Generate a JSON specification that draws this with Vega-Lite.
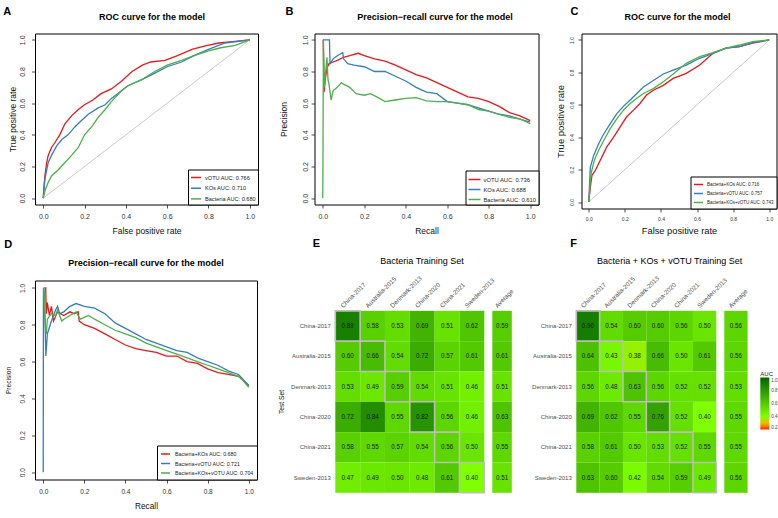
{
"$schema": "https://vega.github.io/schema/vega-lite/v6.json",
"padding": {"left": 3, "top": 5.5, "right": 0, "bottom": 0},
"background": "white",
"config": {
  "font": "Liberation Sans",
  "view": {"stroke": "#000", "strokeWidth": 1},
  "axis": {"grid": false, "domain": false, "tickColor": "#222", "tickSize": 3.5, "tickWidth": 0.8, "labelColor": "#333", "titleColor": "#111", "titleFontWeight": "normal", "labelFlush": false, "labelOverlap": false},
  "title": {"fontSize": 9, "fontWeight": "bold", "color": "#000"},
  "legend": {"labelFont": "Liberation Sans", "titleFont": "Liberation Sans"}
},
"datasets": {
  "rocA": [
    {"model":"vOTU AUC: 0.766","fpr":0,"tpr":0},{"model":"vOTU AUC: 0.766","fpr":0.004,"tpr":0.08},{"model":"vOTU AUC: 0.766","fpr":0.008,"tpr":0.14},{"model":"vOTU AUC: 0.766","fpr":0.016,"tpr":0.22},{"model":"vOTU AUC: 0.766","fpr":0.024,"tpr":0.27},{"model":"vOTU AUC: 0.766","fpr":0.04,"tpr":0.32},{"model":"vOTU AUC: 0.766","fpr":0.056,"tpr":0.35},{"model":"vOTU AUC: 0.766","fpr":0.08,"tpr":0.4},{"model":"vOTU AUC: 0.766","fpr":0.105,"tpr":0.47},{"model":"vOTU AUC: 0.766","fpr":0.137,"tpr":0.52},{"model":"vOTU AUC: 0.766","fpr":0.17,"tpr":0.56},{"model":"vOTU AUC: 0.766","fpr":0.2,"tpr":0.59},{"model":"vOTU AUC: 0.766","fpr":0.24,"tpr":0.62},{"model":"vOTU AUC: 0.766","fpr":0.28,"tpr":0.66},{"model":"vOTU AUC: 0.766","fpr":0.33,"tpr":0.69},{"model":"vOTU AUC: 0.766","fpr":0.38,"tpr":0.74},{"model":"vOTU AUC: 0.766","fpr":0.43,"tpr":0.8},{"model":"vOTU AUC: 0.766","fpr":0.48,"tpr":0.84},{"model":"vOTU AUC: 0.766","fpr":0.52,"tpr":0.86},{"model":"vOTU AUC: 0.766","fpr":0.59,"tpr":0.87},{"model":"vOTU AUC: 0.766","fpr":0.65,"tpr":0.9},{"model":"vOTU AUC: 0.766","fpr":0.72,"tpr":0.94},{"model":"vOTU AUC: 0.766","fpr":0.78,"tpr":0.96},{"model":"vOTU AUC: 0.766","fpr":0.85,"tpr":0.98},{"model":"vOTU AUC: 0.766","fpr":0.93,"tpr":0.99},{"model":"vOTU AUC: 0.766","fpr":1,"tpr":1},
    {"model":"KOs AUC: 0.710","fpr":0,"tpr":0},{"model":"KOs AUC: 0.710","fpr":0.004,"tpr":0.06},{"model":"KOs AUC: 0.710","fpr":0.008,"tpr":0.12},{"model":"KOs AUC: 0.710","fpr":0.024,"tpr":0.225},{"model":"KOs AUC: 0.710","fpr":0.04,"tpr":0.27},{"model":"KOs AUC: 0.710","fpr":0.065,"tpr":0.33},{"model":"KOs AUC: 0.710","fpr":0.09,"tpr":0.37},{"model":"KOs AUC: 0.710","fpr":0.12,"tpr":0.4},{"model":"KOs AUC: 0.710","fpr":0.153,"tpr":0.45},{"model":"KOs AUC: 0.710","fpr":0.185,"tpr":0.49},{"model":"KOs AUC: 0.710","fpr":0.218,"tpr":0.53},{"model":"KOs AUC: 0.710","fpr":0.266,"tpr":0.57},{"model":"KOs AUC: 0.710","fpr":0.3,"tpr":0.59},{"model":"KOs AUC: 0.710","fpr":0.33,"tpr":0.63},{"model":"KOs AUC: 0.710","fpr":0.36,"tpr":0.66},{"model":"KOs AUC: 0.710","fpr":0.41,"tpr":0.71},{"model":"KOs AUC: 0.710","fpr":0.48,"tpr":0.75},{"model":"KOs AUC: 0.710","fpr":0.54,"tpr":0.79},{"model":"KOs AUC: 0.710","fpr":0.6,"tpr":0.83},{"model":"KOs AUC: 0.710","fpr":0.67,"tpr":0.86},{"model":"KOs AUC: 0.710","fpr":0.73,"tpr":0.9},{"model":"KOs AUC: 0.710","fpr":0.8,"tpr":0.94},{"model":"KOs AUC: 0.710","fpr":0.88,"tpr":0.98},{"model":"KOs AUC: 0.710","fpr":1,"tpr":1},
    {"model":"Bacteria AUC: 0.680","fpr":0,"tpr":0},{"model":"Bacteria AUC: 0.680","fpr":0.008,"tpr":0.045},{"model":"Bacteria AUC: 0.680","fpr":0.024,"tpr":0.1},{"model":"Bacteria AUC: 0.680","fpr":0.04,"tpr":0.14},{"model":"Bacteria AUC: 0.680","fpr":0.073,"tpr":0.18},{"model":"Bacteria AUC: 0.680","fpr":0.105,"tpr":0.225},{"model":"Bacteria AUC: 0.680","fpr":0.137,"tpr":0.27},{"model":"Bacteria AUC: 0.680","fpr":0.17,"tpr":0.32},{"model":"Bacteria AUC: 0.680","fpr":0.2,"tpr":0.4},{"model":"Bacteria AUC: 0.680","fpr":0.234,"tpr":0.45},{"model":"Bacteria AUC: 0.680","fpr":0.266,"tpr":0.51},{"model":"Bacteria AUC: 0.680","fpr":0.3,"tpr":0.56},{"model":"Bacteria AUC: 0.680","fpr":0.33,"tpr":0.61},{"model":"Bacteria AUC: 0.680","fpr":0.38,"tpr":0.68},{"model":"Bacteria AUC: 0.680","fpr":0.41,"tpr":0.71},{"model":"Bacteria AUC: 0.680","fpr":0.48,"tpr":0.75},{"model":"Bacteria AUC: 0.680","fpr":0.54,"tpr":0.8},{"model":"Bacteria AUC: 0.680","fpr":0.6,"tpr":0.84},{"model":"Bacteria AUC: 0.680","fpr":0.67,"tpr":0.87},{"model":"Bacteria AUC: 0.680","fpr":0.73,"tpr":0.9},{"model":"Bacteria AUC: 0.680","fpr":0.8,"tpr":0.93},{"model":"Bacteria AUC: 0.680","fpr":0.86,"tpr":0.95},{"model":"Bacteria AUC: 0.680","fpr":0.93,"tpr":0.965},{"model":"Bacteria AUC: 0.680","fpr":1,"tpr":1}
  ],
  "prB": [
    {"model":"vOTU AUC: 0.736","recall":0.002,"precision":1.0},{"model":"vOTU AUC: 0.736","recall":0.006,"precision":0.67},{"model":"vOTU AUC: 0.736","recall":0.012,"precision":0.75},{"model":"vOTU AUC: 0.736","recall":0.02,"precision":0.82},{"model":"vOTU AUC: 0.736","recall":0.03,"precision":0.85},{"model":"vOTU AUC: 0.736","recall":0.05,"precision":0.86},{"model":"vOTU AUC: 0.736","recall":0.07,"precision":0.87},{"model":"vOTU AUC: 0.736","recall":0.1,"precision":0.89},{"model":"vOTU AUC: 0.736","recall":0.13,"precision":0.9},{"model":"vOTU AUC: 0.736","recall":0.17,"precision":0.915},{"model":"vOTU AUC: 0.736","recall":0.2,"precision":0.9},{"model":"vOTU AUC: 0.736","recall":0.25,"precision":0.88},{"model":"vOTU AUC: 0.736","recall":0.3,"precision":0.865},{"model":"vOTU AUC: 0.736","recall":0.35,"precision":0.84},{"model":"vOTU AUC: 0.736","recall":0.4,"precision":0.81},{"model":"vOTU AUC: 0.736","recall":0.45,"precision":0.78},{"model":"vOTU AUC: 0.736","recall":0.5,"precision":0.76},{"model":"vOTU AUC: 0.736","recall":0.55,"precision":0.73},{"model":"vOTU AUC: 0.736","recall":0.6,"precision":0.7},{"model":"vOTU AUC: 0.736","recall":0.65,"precision":0.67},{"model":"vOTU AUC: 0.736","recall":0.7,"precision":0.64},{"model":"vOTU AUC: 0.736","recall":0.75,"precision":0.63},{"model":"vOTU AUC: 0.736","recall":0.8,"precision":0.61},{"model":"vOTU AUC: 0.736","recall":0.85,"precision":0.58},{"model":"vOTU AUC: 0.736","recall":0.9,"precision":0.54},{"model":"vOTU AUC: 0.736","recall":0.95,"precision":0.52},{"model":"vOTU AUC: 0.736","recall":1.0,"precision":0.49},
    {"model":"KOs AUC: 0.688","recall":0.001,"precision":1.0},{"model":"KOs AUC: 0.688","recall":0.032,"precision":1.0},{"model":"KOs AUC: 0.688","recall":0.035,"precision":0.85},{"model":"KOs AUC: 0.688","recall":0.05,"precision":0.88},{"model":"KOs AUC: 0.688","recall":0.07,"precision":0.9},{"model":"KOs AUC: 0.688","recall":0.096,"precision":0.92},{"model":"KOs AUC: 0.688","recall":0.1,"precision":0.88},{"model":"KOs AUC: 0.688","recall":0.12,"precision":0.85},{"model":"KOs AUC: 0.688","recall":0.15,"precision":0.84},{"model":"KOs AUC: 0.688","recall":0.2,"precision":0.83},{"model":"KOs AUC: 0.688","recall":0.25,"precision":0.8},{"model":"KOs AUC: 0.688","recall":0.3,"precision":0.8},{"model":"KOs AUC: 0.688","recall":0.35,"precision":0.77},{"model":"KOs AUC: 0.688","recall":0.4,"precision":0.74},{"model":"KOs AUC: 0.688","recall":0.45,"precision":0.7},{"model":"KOs AUC: 0.688","recall":0.5,"precision":0.67},{"model":"KOs AUC: 0.688","recall":0.55,"precision":0.66},{"model":"KOs AUC: 0.688","recall":0.6,"precision":0.61},{"model":"KOs AUC: 0.688","recall":0.65,"precision":0.6},{"model":"KOs AUC: 0.688","recall":0.7,"precision":0.59},{"model":"KOs AUC: 0.688","recall":0.75,"precision":0.57},{"model":"KOs AUC: 0.688","recall":0.8,"precision":0.55},{"model":"KOs AUC: 0.688","recall":0.85,"precision":0.53},{"model":"KOs AUC: 0.688","recall":0.9,"precision":0.52},{"model":"KOs AUC: 0.688","recall":0.95,"precision":0.5},{"model":"KOs AUC: 0.688","recall":1.0,"precision":0.48},
    {"model":"Bacteria AUC: 0.610","recall":0,"precision":0},{"model":"Bacteria AUC: 0.610","recall":0.003,"precision":1.0},{"model":"Bacteria AUC: 0.610","recall":0.008,"precision":0.7},{"model":"Bacteria AUC: 0.610","recall":0.014,"precision":0.8},{"model":"Bacteria AUC: 0.610","recall":0.02,"precision":0.89},{"model":"Bacteria AUC: 0.610","recall":0.025,"precision":0.75},{"model":"Bacteria AUC: 0.610","recall":0.03,"precision":0.72},{"model":"Bacteria AUC: 0.610","recall":0.04,"precision":0.62},{"model":"Bacteria AUC: 0.610","recall":0.05,"precision":0.68},{"model":"Bacteria AUC: 0.610","recall":0.07,"precision":0.7},{"model":"Bacteria AUC: 0.610","recall":0.09,"precision":0.73},{"model":"Bacteria AUC: 0.610","recall":0.1,"precision":0.72},{"model":"Bacteria AUC: 0.610","recall":0.13,"precision":0.7},{"model":"Bacteria AUC: 0.610","recall":0.16,"precision":0.66},{"model":"Bacteria AUC: 0.610","recall":0.2,"precision":0.65},{"model":"Bacteria AUC: 0.610","recall":0.23,"precision":0.66},{"model":"Bacteria AUC: 0.610","recall":0.26,"precision":0.64},{"model":"Bacteria AUC: 0.610","recall":0.3,"precision":0.61},{"model":"Bacteria AUC: 0.610","recall":0.35,"precision":0.62},{"model":"Bacteria AUC: 0.610","recall":0.4,"precision":0.63},{"model":"Bacteria AUC: 0.610","recall":0.45,"precision":0.635},{"model":"Bacteria AUC: 0.610","recall":0.5,"precision":0.615},{"model":"Bacteria AUC: 0.610","recall":0.55,"precision":0.61},{"model":"Bacteria AUC: 0.610","recall":0.6,"precision":0.61},{"model":"Bacteria AUC: 0.610","recall":0.65,"precision":0.6},{"model":"Bacteria AUC: 0.610","recall":0.7,"precision":0.59},{"model":"Bacteria AUC: 0.610","recall":0.75,"precision":0.56},{"model":"Bacteria AUC: 0.610","recall":0.8,"precision":0.55},{"model":"Bacteria AUC: 0.610","recall":0.85,"precision":0.53},{"model":"Bacteria AUC: 0.610","recall":0.9,"precision":0.51},{"model":"Bacteria AUC: 0.610","recall":0.95,"precision":0.5},{"model":"Bacteria AUC: 0.610","recall":1.0,"precision":0.47}
  ],
  "rocC": [
    {"model":"Bacteria+KOs AUC: 0.716","fpr":0,"tpr":0},{"model":"Bacteria+KOs AUC: 0.716","fpr":0.01,"tpr":0.1},{"model":"Bacteria+KOs AUC: 0.716","fpr":0.018,"tpr":0.165},{"model":"Bacteria+KOs AUC: 0.716","fpr":0.037,"tpr":0.196},{"model":"Bacteria+KOs AUC: 0.716","fpr":0.064,"tpr":0.258},{"model":"Bacteria+KOs AUC: 0.716","fpr":0.1,"tpr":0.34},{"model":"Bacteria+KOs AUC: 0.716","fpr":0.138,"tpr":0.4},{"model":"Bacteria+KOs AUC: 0.716","fpr":0.174,"tpr":0.464},{"model":"Bacteria+KOs AUC: 0.716","fpr":0.21,"tpr":0.526},{"model":"Bacteria+KOs AUC: 0.716","fpr":0.248,"tpr":0.567},{"model":"Bacteria+KOs AUC: 0.716","fpr":0.284,"tpr":0.608},{"model":"Bacteria+KOs AUC: 0.716","fpr":0.32,"tpr":0.66},{"model":"Bacteria+KOs AUC: 0.716","fpr":0.358,"tpr":0.69},{"model":"Bacteria+KOs AUC: 0.716","fpr":0.413,"tpr":0.72},{"model":"Bacteria+KOs AUC: 0.716","fpr":0.468,"tpr":0.763},{"model":"Bacteria+KOs AUC: 0.716","fpr":0.54,"tpr":0.794},{"model":"Bacteria+KOs AUC: 0.716","fpr":0.615,"tpr":0.845},{"model":"Bacteria+KOs AUC: 0.716","fpr":0.688,"tpr":0.918},{"model":"Bacteria+KOs AUC: 0.716","fpr":0.76,"tpr":0.95},{"model":"Bacteria+KOs AUC: 0.716","fpr":0.835,"tpr":0.959},{"model":"Bacteria+KOs AUC: 0.716","fpr":0.908,"tpr":0.98},{"model":"Bacteria+KOs AUC: 0.716","fpr":1,"tpr":1},
    {"model":"Bacteria+vOTU AUC: 0.757","fpr":0,"tpr":0},{"model":"Bacteria+vOTU AUC: 0.757","fpr":0.009,"tpr":0.216},{"model":"Bacteria+vOTU AUC: 0.757","fpr":0.028,"tpr":0.289},{"model":"Bacteria+vOTU AUC: 0.757","fpr":0.055,"tpr":0.36},{"model":"Bacteria+vOTU AUC: 0.757","fpr":0.083,"tpr":0.42},{"model":"Bacteria+vOTU AUC: 0.757","fpr":0.12,"tpr":0.485},{"model":"Bacteria+vOTU AUC: 0.757","fpr":0.156,"tpr":0.546},{"model":"Bacteria+vOTU AUC: 0.757","fpr":0.193,"tpr":0.592},{"model":"Bacteria+vOTU AUC: 0.757","fpr":0.23,"tpr":0.63},{"model":"Bacteria+vOTU AUC: 0.757","fpr":0.266,"tpr":0.67},{"model":"Bacteria+vOTU AUC: 0.757","fpr":0.303,"tpr":0.71},{"model":"Bacteria+vOTU AUC: 0.757","fpr":0.358,"tpr":0.75},{"model":"Bacteria+vOTU AUC: 0.757","fpr":0.413,"tpr":0.79},{"model":"Bacteria+vOTU AUC: 0.757","fpr":0.468,"tpr":0.814},{"model":"Bacteria+vOTU AUC: 0.757","fpr":0.54,"tpr":0.845},{"model":"Bacteria+vOTU AUC: 0.757","fpr":0.615,"tpr":0.887},{"model":"Bacteria+vOTU AUC: 0.757","fpr":0.688,"tpr":0.918},{"model":"Bacteria+vOTU AUC: 0.757","fpr":0.76,"tpr":0.95},{"model":"Bacteria+vOTU AUC: 0.757","fpr":0.835,"tpr":0.959},{"model":"Bacteria+vOTU AUC: 0.757","fpr":0.908,"tpr":0.984},{"model":"Bacteria+vOTU AUC: 0.757","fpr":1,"tpr":1},
    {"model":"Bacteria+KOs+vOTU AUC: 0.743","fpr":0,"tpr":0},{"model":"Bacteria+KOs+vOTU AUC: 0.743","fpr":0.013,"tpr":0.175},{"model":"Bacteria+KOs+vOTU AUC: 0.743","fpr":0.031,"tpr":0.258},{"model":"Bacteria+KOs+vOTU AUC: 0.743","fpr":0.055,"tpr":0.32},{"model":"Bacteria+KOs+vOTU AUC: 0.743","fpr":0.083,"tpr":0.38},{"model":"Bacteria+KOs+vOTU AUC: 0.743","fpr":0.12,"tpr":0.454},{"model":"Bacteria+KOs+vOTU AUC: 0.743","fpr":0.156,"tpr":0.515},{"model":"Bacteria+KOs+vOTU AUC: 0.743","fpr":0.193,"tpr":0.567},{"model":"Bacteria+KOs+vOTU AUC: 0.743","fpr":0.23,"tpr":0.608},{"model":"Bacteria+KOs+vOTU AUC: 0.743","fpr":0.266,"tpr":0.64},{"model":"Bacteria+KOs+vOTU AUC: 0.743","fpr":0.303,"tpr":0.67},{"model":"Bacteria+KOs+vOTU AUC: 0.743","fpr":0.358,"tpr":0.7},{"model":"Bacteria+KOs+vOTU AUC: 0.743","fpr":0.413,"tpr":0.742},{"model":"Bacteria+KOs+vOTU AUC: 0.743","fpr":0.468,"tpr":0.79},{"model":"Bacteria+KOs+vOTU AUC: 0.743","fpr":0.54,"tpr":0.856},{"model":"Bacteria+KOs+vOTU AUC: 0.743","fpr":0.615,"tpr":0.897},{"model":"Bacteria+KOs+vOTU AUC: 0.743","fpr":0.688,"tpr":0.922},{"model":"Bacteria+KOs+vOTU AUC: 0.743","fpr":0.76,"tpr":0.95},{"model":"Bacteria+KOs+vOTU AUC: 0.743","fpr":0.835,"tpr":0.969},{"model":"Bacteria+KOs+vOTU AUC: 0.743","fpr":0.908,"tpr":0.99},{"model":"Bacteria+KOs+vOTU AUC: 0.743","fpr":1,"tpr":1}
  ],
  "prD": [
    {"model":"Bacteria+KOs AUC: 0.680","recall":0.005,"precision":1.0},{"model":"Bacteria+KOs AUC: 0.680","recall":0.012,"precision":1.0},{"model":"Bacteria+KOs AUC: 0.680","recall":0.015,"precision":0.86},{"model":"Bacteria+KOs AUC: 0.680","recall":0.02,"precision":0.92},{"model":"Bacteria+KOs AUC: 0.680","recall":0.03,"precision":0.85},{"model":"Bacteria+KOs AUC: 0.680","recall":0.04,"precision":0.9},{"model":"Bacteria+KOs AUC: 0.680","recall":0.05,"precision":0.82},{"model":"Bacteria+KOs AUC: 0.680","recall":0.07,"precision":0.87},{"model":"Bacteria+KOs AUC: 0.680","recall":0.1,"precision":0.85},{"model":"Bacteria+KOs AUC: 0.680","recall":0.13,"precision":0.87},{"model":"Bacteria+KOs AUC: 0.680","recall":0.15,"precision":0.86},{"model":"Bacteria+KOs AUC: 0.680","recall":0.17,"precision":0.87},{"model":"Bacteria+KOs AUC: 0.680","recall":0.175,"precision":0.82},{"model":"Bacteria+KOs AUC: 0.680","recall":0.2,"precision":0.8},{"model":"Bacteria+KOs AUC: 0.680","recall":0.25,"precision":0.78},{"model":"Bacteria+KOs AUC: 0.680","recall":0.3,"precision":0.75},{"model":"Bacteria+KOs AUC: 0.680","recall":0.35,"precision":0.72},{"model":"Bacteria+KOs AUC: 0.680","recall":0.4,"precision":0.69},{"model":"Bacteria+KOs AUC: 0.680","recall":0.45,"precision":0.67},{"model":"Bacteria+KOs AUC: 0.680","recall":0.5,"precision":0.66},{"model":"Bacteria+KOs AUC: 0.680","recall":0.55,"precision":0.65},{"model":"Bacteria+KOs AUC: 0.680","recall":0.6,"precision":0.63},{"model":"Bacteria+KOs AUC: 0.680","recall":0.65,"precision":0.63},{"model":"Bacteria+KOs AUC: 0.680","recall":0.7,"precision":0.6},{"model":"Bacteria+KOs AUC: 0.680","recall":0.75,"precision":0.59},{"model":"Bacteria+KOs AUC: 0.680","recall":0.8,"precision":0.56},{"model":"Bacteria+KOs AUC: 0.680","recall":0.85,"precision":0.54},{"model":"Bacteria+KOs AUC: 0.680","recall":0.9,"precision":0.53},{"model":"Bacteria+KOs AUC: 0.680","recall":0.95,"precision":0.52},{"model":"Bacteria+KOs AUC: 0.680","recall":1.0,"precision":0.47},
    {"model":"Bacteria+vOTU AUC: 0.721","recall":0,"precision":0},{"model":"Bacteria+vOTU AUC: 0.721","recall":0.001,"precision":1.0},{"model":"Bacteria+vOTU AUC: 0.721","recall":0.005,"precision":0.98},{"model":"Bacteria+vOTU AUC: 0.721","recall":0.013,"precision":0.63},{"model":"Bacteria+vOTU AUC: 0.721","recall":0.02,"precision":0.75},{"model":"Bacteria+vOTU AUC: 0.721","recall":0.04,"precision":0.82},{"model":"Bacteria+vOTU AUC: 0.721","recall":0.06,"precision":0.88},{"model":"Bacteria+vOTU AUC: 0.721","recall":0.07,"precision":0.9},{"model":"Bacteria+vOTU AUC: 0.721","recall":0.08,"precision":0.86},{"model":"Bacteria+vOTU AUC: 0.721","recall":0.1,"precision":0.87},{"model":"Bacteria+vOTU AUC: 0.721","recall":0.13,"precision":0.9},{"model":"Bacteria+vOTU AUC: 0.721","recall":0.16,"precision":0.915},{"model":"Bacteria+vOTU AUC: 0.721","recall":0.2,"precision":0.9},{"model":"Bacteria+vOTU AUC: 0.721","recall":0.25,"precision":0.89},{"model":"Bacteria+vOTU AUC: 0.721","recall":0.3,"precision":0.86},{"model":"Bacteria+vOTU AUC: 0.721","recall":0.35,"precision":0.81},{"model":"Bacteria+vOTU AUC: 0.721","recall":0.4,"precision":0.78},{"model":"Bacteria+vOTU AUC: 0.721","recall":0.45,"precision":0.75},{"model":"Bacteria+vOTU AUC: 0.721","recall":0.5,"precision":0.72},{"model":"Bacteria+vOTU AUC: 0.721","recall":0.55,"precision":0.7},{"model":"Bacteria+vOTU AUC: 0.721","recall":0.6,"precision":0.68},{"model":"Bacteria+vOTU AUC: 0.721","recall":0.65,"precision":0.66},{"model":"Bacteria+vOTU AUC: 0.721","recall":0.7,"precision":0.65},{"model":"Bacteria+vOTU AUC: 0.721","recall":0.75,"precision":0.62},{"model":"Bacteria+vOTU AUC: 0.721","recall":0.8,"precision":0.6},{"model":"Bacteria+vOTU AUC: 0.721","recall":0.85,"precision":0.58},{"model":"Bacteria+vOTU AUC: 0.721","recall":0.9,"precision":0.55},{"model":"Bacteria+vOTU AUC: 0.721","recall":0.95,"precision":0.53},{"model":"Bacteria+vOTU AUC: 0.721","recall":1.0,"precision":0.47},
    {"model":"Bacteria+KOs+vOTU AUC: 0.704","recall":0.003,"precision":1.0},{"model":"Bacteria+KOs+vOTU AUC: 0.704","recall":0.01,"precision":0.8},{"model":"Bacteria+KOs+vOTU AUC: 0.704","recall":0.015,"precision":0.75},{"model":"Bacteria+KOs+vOTU AUC: 0.704","recall":0.02,"precision":0.83},{"model":"Bacteria+KOs+vOTU AUC: 0.704","recall":0.04,"precision":0.86},{"model":"Bacteria+KOs+vOTU AUC: 0.704","recall":0.06,"precision":0.85},{"model":"Bacteria+KOs+vOTU AUC: 0.704","recall":0.07,"precision":0.88},{"model":"Bacteria+KOs+vOTU AUC: 0.704","recall":0.09,"precision":0.82},{"model":"Bacteria+KOs+vOTU AUC: 0.704","recall":0.1,"precision":0.83},{"model":"Bacteria+KOs+vOTU AUC: 0.704","recall":0.13,"precision":0.85},{"model":"Bacteria+KOs+vOTU AUC: 0.704","recall":0.16,"precision":0.87},{"model":"Bacteria+KOs+vOTU AUC: 0.704","recall":0.18,"precision":0.83},{"model":"Bacteria+KOs+vOTU AUC: 0.704","recall":0.2,"precision":0.84},{"model":"Bacteria+KOs+vOTU AUC: 0.704","recall":0.22,"precision":0.85},{"model":"Bacteria+KOs+vOTU AUC: 0.704","recall":0.25,"precision":0.83},{"model":"Bacteria+KOs+vOTU AUC: 0.704","recall":0.3,"precision":0.8},{"model":"Bacteria+KOs+vOTU AUC: 0.704","recall":0.35,"precision":0.77},{"model":"Bacteria+KOs+vOTU AUC: 0.704","recall":0.4,"precision":0.75},{"model":"Bacteria+KOs+vOTU AUC: 0.704","recall":0.45,"precision":0.73},{"model":"Bacteria+KOs+vOTU AUC: 0.704","recall":0.5,"precision":0.7},{"model":"Bacteria+KOs+vOTU AUC: 0.704","recall":0.55,"precision":0.68},{"model":"Bacteria+KOs+vOTU AUC: 0.704","recall":0.6,"precision":0.66},{"model":"Bacteria+KOs+vOTU AUC: 0.704","recall":0.65,"precision":0.64},{"model":"Bacteria+KOs+vOTU AUC: 0.704","recall":0.7,"precision":0.62},{"model":"Bacteria+KOs+vOTU AUC: 0.704","recall":0.75,"precision":0.6},{"model":"Bacteria+KOs+vOTU AUC: 0.704","recall":0.8,"precision":0.58},{"model":"Bacteria+KOs+vOTU AUC: 0.704","recall":0.85,"precision":0.56},{"model":"Bacteria+KOs+vOTU AUC: 0.704","recall":0.9,"precision":0.54},{"model":"Bacteria+KOs+vOTU AUC: 0.704","recall":0.95,"precision":0.52},{"model":"Bacteria+KOs+vOTU AUC: 0.704","recall":0.97,"precision":0.5},{"model":"Bacteria+KOs+vOTU AUC: 0.704","recall":1.0,"precision":0.46}
  ],
  "heatE": [
    {"test":"China-2017","train":"China-2017","auc":0.89},{"test":"China-2017","train":"Australia-2015","auc":0.58},{"test":"China-2017","train":"Denmark-2013","auc":0.53},{"test":"China-2017","train":"China-2020","auc":0.69},{"test":"China-2017","train":"China-2021","auc":0.51},{"test":"China-2017","train":"Sweden-2013","auc":0.62},{"test":"China-2017","train":"Average","auc":0.59},
    {"test":"Australia-2015","train":"China-2017","auc":0.60},{"test":"Australia-2015","train":"Australia-2015","auc":0.66},{"test":"Australia-2015","train":"Denmark-2013","auc":0.54},{"test":"Australia-2015","train":"China-2020","auc":0.72},{"test":"Australia-2015","train":"China-2021","auc":0.57},{"test":"Australia-2015","train":"Sweden-2013","auc":0.61},{"test":"Australia-2015","train":"Average","auc":0.61},
    {"test":"Denmark-2013","train":"China-2017","auc":0.53},{"test":"Denmark-2013","train":"Australia-2015","auc":0.49},{"test":"Denmark-2013","train":"Denmark-2013","auc":0.59},{"test":"Denmark-2013","train":"China-2020","auc":0.54},{"test":"Denmark-2013","train":"China-2021","auc":0.51},{"test":"Denmark-2013","train":"Sweden-2013","auc":0.46},{"test":"Denmark-2013","train":"Average","auc":0.51},
    {"test":"China-2020","train":"China-2017","auc":0.72},{"test":"China-2020","train":"Australia-2015","auc":0.84},{"test":"China-2020","train":"Denmark-2013","auc":0.55},{"test":"China-2020","train":"China-2020","auc":0.82},{"test":"China-2020","train":"China-2021","auc":0.56},{"test":"China-2020","train":"Sweden-2013","auc":0.46},{"test":"China-2020","train":"Average","auc":0.63},
    {"test":"China-2021","train":"China-2017","auc":0.58},{"test":"China-2021","train":"Australia-2015","auc":0.55},{"test":"China-2021","train":"Denmark-2013","auc":0.57},{"test":"China-2021","train":"China-2020","auc":0.54},{"test":"China-2021","train":"China-2021","auc":0.56},{"test":"China-2021","train":"Sweden-2013","auc":0.50},{"test":"China-2021","train":"Average","auc":0.55},
    {"test":"Sweden-2013","train":"China-2017","auc":0.47},{"test":"Sweden-2013","train":"Australia-2015","auc":0.49},{"test":"Sweden-2013","train":"Denmark-2013","auc":0.50},{"test":"Sweden-2013","train":"China-2020","auc":0.48},{"test":"Sweden-2013","train":"China-2021","auc":0.61},{"test":"Sweden-2013","train":"Sweden-2013","auc":0.40},{"test":"Sweden-2013","train":"Average","auc":0.51}
  ],
  "heatF": [
    {"test":"China-2017","train":"China-2017","auc":0.90},{"test":"China-2017","train":"Australia-2015","auc":0.54},{"test":"China-2017","train":"Denmark-2013","auc":0.60},{"test":"China-2017","train":"China-2020","auc":0.60},{"test":"China-2017","train":"China-2021","auc":0.56},{"test":"China-2017","train":"Sweden-2013","auc":0.50},{"test":"China-2017","train":"Average","auc":0.56},
    {"test":"Australia-2015","train":"China-2017","auc":0.64},{"test":"Australia-2015","train":"Australia-2015","auc":0.43},{"test":"Australia-2015","train":"Denmark-2013","auc":0.38},{"test":"Australia-2015","train":"China-2020","auc":0.66},{"test":"Australia-2015","train":"China-2021","auc":0.50},{"test":"Australia-2015","train":"Sweden-2013","auc":0.61},{"test":"Australia-2015","train":"Average","auc":0.56},
    {"test":"Denmark-2013","train":"China-2017","auc":0.56},{"test":"Denmark-2013","train":"Australia-2015","auc":0.48},{"test":"Denmark-2013","train":"Denmark-2013","auc":0.63},{"test":"Denmark-2013","train":"China-2020","auc":0.56},{"test":"Denmark-2013","train":"China-2021","auc":0.52},{"test":"Denmark-2013","train":"Sweden-2013","auc":0.52},{"test":"Denmark-2013","train":"Average","auc":0.53},
    {"test":"China-2020","train":"China-2017","auc":0.69},{"test":"China-2020","train":"Australia-2015","auc":0.62},{"test":"China-2020","train":"Denmark-2013","auc":0.55},{"test":"China-2020","train":"China-2020","auc":0.76},{"test":"China-2020","train":"China-2021","auc":0.52},{"test":"China-2020","train":"Sweden-2013","auc":0.40},{"test":"China-2020","train":"Average","auc":0.55},
    {"test":"China-2021","train":"China-2017","auc":0.58},{"test":"China-2021","train":"Australia-2015","auc":0.61},{"test":"China-2021","train":"Denmark-2013","auc":0.50},{"test":"China-2021","train":"China-2020","auc":0.53},{"test":"China-2021","train":"China-2021","auc":0.52},{"test":"China-2021","train":"Sweden-2013","auc":0.55},{"test":"China-2021","train":"Average","auc":0.55},
    {"test":"Sweden-2013","train":"China-2017","auc":0.63},{"test":"Sweden-2013","train":"Australia-2015","auc":0.60},{"test":"Sweden-2013","train":"Denmark-2013","auc":0.42},{"test":"Sweden-2013","train":"China-2020","auc":0.54},{"test":"Sweden-2013","train":"China-2021","auc":0.59},{"test":"Sweden-2013","train":"Sweden-2013","auc":0.49},{"test":"Sweden-2013","train":"Average","auc":0.56}
  ]
},
"spacing": 1,
"resolve": {"scale": {"color": "independent"}},
"vconcat": [
  {
    "spacing": 19.5, "resolve": {"scale": {"color": "independent"}},
    "hconcat": [
      {
        "title": {"text": "A", "anchor": "start", "frame": "bounds", "fontSize": 11, "fontWeight": "bold", "dx": -4.75, "offset": -5},
        "resolve": {"scale": {"color": "independent"}},
        "vconcat": [{
          "width": 223, "height": 171,
          "title": {"text": "ROC curve for the model", "frame": "group", "offset": 12, "dx": 5.5},
          "encoding": {
            "x": {"field": "fpr", "type": "quantitative", "scale": {"domain": [-0.04, 1.04], "nice": false, "zero": false}, "axis": {"title": "False positive rate", "values": [0,0.2,0.4,0.6,0.8,1], "format": ".1f", "labelFontSize": 7, "titleFontSize": 8.5, "labelPadding": 4, "titlePadding": 7.5}},
            "y": {"field": "tpr", "type": "quantitative", "scale": {"domain": [-0.04, 1.04], "nice": false, "zero": false}, "axis": {"title": "True positive rate", "values": [0,0.2,0.4,0.6,0.8,1], "format": ".1f", "labelAngle": -90, "labelAlign": "center", "labelBaseline": "bottom", "labelFontSize": 7, "labelPadding": 6, "titleFontSize": 8.5, "titlePadding": 1}}
          },
          "layer": [
            {"data": {"values": [{"fpr": 0, "tpr": 0}, {"fpr": 1, "tpr": 1}]}, "mark": {"type": "line", "color": "#a6a6a6", "strokeWidth": 0.6}},
            {"data": {"name": "rocA"}, "mark": {"type": "line", "strokeWidth": 1.3},
             "encoding": {"color": {"field": "model", "type": "nominal", "scale": {"domain": ["vOTU AUC: 0.766", "KOs AUC: 0.710", "Bacteria AUC: 0.680"], "range": ["#e41a1c", "#377eb8", "#4daf4a"]},
               "legend": {"orient": "bottom-right", "offset": 0, "title": null, "strokeColor": "#000", "fillColor": "white", "padding": 2, "symbolType": "stroke", "symbolSize": 100, "symbolStrokeWidth": 1.5, "labelFontSize": 5.6, "labelColor": "#222", "labelOffset": 3, "rowPadding": 0.7}}}}
          ]
        }]
      },
      {
        "spacing": 15, "resolve": {"scale": {"color": "independent"}},
        "hconcat": [
          {
            "title": {"text": "B", "anchor": "start", "frame": "bounds", "fontSize": 11, "fontWeight": "bold", "dx": 6.5, "offset": -5},
            "resolve": {"scale": {"color": "independent"}},
            "vconcat": [{
              "width": 224, "height": 171,
              "title": {"text": "Precision−recall curve for the model", "frame": "group", "offset": 12, "dx": 8.5},
              "data": {"name": "prB"},
              "mark": {"type": "line", "strokeWidth": 1.3},
              "encoding": {
                "x": {"field": "recall", "type": "quantitative", "scale": {"domain": [-0.04, 1.04], "nice": false, "zero": false}, "axis": {"title": "Recall", "values": [0,0.2,0.4,0.6,0.8,1], "format": ".1f", "labelFontSize": 7, "titleFontSize": 8.5, "labelPadding": 4, "titlePadding": 7.5}},
                "y": {"field": "precision", "type": "quantitative", "scale": {"domain": [-0.04, 1.04], "nice": false, "zero": false}, "axis": {"title": "Precision", "values": [0,0.2,0.4,0.6,0.8,1], "format": ".1f", "labelAngle": -90, "labelAlign": "center", "labelBaseline": "bottom", "labelFontSize": 7, "labelPadding": 2.5, "titleFontSize": 8.5, "titlePadding": 13}},
                "color": {"field": "model", "type": "nominal", "scale": {"domain": ["vOTU AUC: 0.736", "KOs AUC: 0.688", "Bacteria AUC: 0.610"], "range": ["#e41a1c", "#377eb8", "#4daf4a"]},
                  "legend": {"orient": "bottom-right", "offset": 0, "title": null, "strokeColor": "#000", "fillColor": "white", "padding": 2, "symbolType": "stroke", "symbolSize": 144, "symbolStrokeWidth": 1.5, "labelFontSize": 5.8, "labelColor": "#222", "labelOffset": 2, "rowPadding": -2.5}}
              }
            }]
          },
          {
            "title": {"text": "C", "anchor": "start", "frame": "bounds", "fontSize": 11, "fontWeight": "bold", "dx": 16, "offset": -5},
            "resolve": {"scale": {"color": "independent"}},
            "vconcat": [{
              "width": 195, "height": 175,
              "title": {"text": "ROC curve for the model", "frame": "group", "offset": 12, "dx": -1.5},
              "encoding": {
                "x": {"field": "fpr", "type": "quantitative", "scale": {"domain": [-0.04, 1.04], "nice": false, "zero": false}, "axis": {"title": "False positive rate", "values": [0,0.2,0.4,0.6,0.8,1], "format": ".1f", "labelFontSize": 5, "titleFontSize": 9.3, "labelPadding": 4, "titlePadding": 5.5}},
                "y": {"field": "tpr", "type": "quantitative", "scale": {"domain": [-0.04, 1.04], "nice": false, "zero": false}, "axis": {"title": "True positive rate", "values": [0,0.2,0.4,0.6,0.8,1], "format": ".1f", "labelAngle": -90, "labelAlign": "center", "labelBaseline": "bottom", "labelFontSize": 5, "labelPadding": 3.5, "titleFontSize": 9.5, "titlePadding": 4.5}}
              },
              "layer": [
                {"data": {"values": [{"fpr": 0, "tpr": 0}, {"fpr": 1, "tpr": 1}]}, "mark": {"type": "line", "color": "#a6a6a6", "strokeWidth": 0.6}},
                {"data": {"name": "rocC"}, "mark": {"type": "line", "strokeWidth": 1.3},
                 "encoding": {"color": {"field": "model", "type": "nominal", "scale": {"domain": ["Bacteria+KOs AUC: 0.716", "Bacteria+vOTU AUC: 0.757", "Bacteria+KOs+vOTU AUC: 0.743"], "range": ["#e41a1c", "#377eb8", "#4daf4a"]},
                   "legend": {"orient": "bottom-right", "offset": 0, "title": null, "strokeColor": "#000", "fillColor": "white", "padding": 2.5, "symbolType": "stroke", "symbolSize": 81, "symbolStrokeWidth": 1.5, "labelFontSize": 4.5, "labelColor": "#222", "labelOffset": 3, "rowPadding": -1}}}}
              ]
            }]
          }
        ]
      }
    ]
  },
  {
    "spacing": 20.3, "resolve": {"scale": {"color": "independent"}},
    "hconcat": [
      {
        "title": {"text": "D", "anchor": "start", "frame": "bounds", "fontSize": 11, "fontWeight": "bold", "dx": -0.7, "offset": 8},
        "resolve": {"scale": {"color": "independent"}},
        "vconcat": [{
          "width": 222, "height": 199,
          "title": {"text": "Precision−recall curve for the model", "frame": "group", "offset": 12.7},
          "data": {"name": "prD"},
          "mark": {"type": "line", "strokeWidth": 1.3},
          "encoding": {
            "x": {"field": "recall", "type": "quantitative", "scale": {"domain": [-0.04, 1.04], "nice": false, "zero": false}, "axis": {"title": "Recall", "values": [0,0.2,0.4,0.6,0.8,1], "format": ".1f", "labelFontSize": 6.5, "titleFontSize": 8.3, "labelPadding": 5.5, "titlePadding": 6.5}},
            "y": {"field": "precision", "type": "quantitative", "scale": {"domain": [-0.04, 1.04], "nice": false, "zero": false}, "axis": {"title": "Precision", "values": [0,0.2,0.4,0.6,0.8,1], "format": ".1f", "labelAngle": -90, "labelAlign": "center", "labelBaseline": "bottom", "labelFontSize": 6.5, "labelPadding": 6, "titleFontSize": 6.6, "titlePadding": 8}},
            "color": {"field": "model", "type": "nominal", "scale": {"domain": ["Bacteria+KOs AUC: 0.680", "Bacteria+vOTU AUC: 0.721", "Bacteria+KOs+vOTU AUC: 0.704"], "range": ["#e41a1c", "#377eb8", "#4daf4a"]},
              "legend": {"orient": "bottom-right", "offset": 0, "title": null, "strokeColor": "#000", "fillColor": "white", "padding": 3, "symbolType": "stroke", "symbolSize": 81, "symbolStrokeWidth": 1.5, "labelFontSize": 5.3, "labelColor": "#222", "labelOffset": 4, "rowPadding": 0.5}}
          }
        }]
      },
      {
        "spacing": 16, "resolve": {"scale": {"color": "independent"}},
        "hconcat": [
          {
            "title": {"text": "E", "anchor": "start", "frame": "bounds", "fontSize": 11, "fontWeight": "bold", "dx": 34.4, "offset": 7.7},
            "resolve": {"scale": {"color": "independent"}},
            "vconcat": [{
              "title": {"text": "Bacteria Training Set", "frame": "bounds", "fontWeight": "normal", "fontSize": 9, "offset": 8.8, "dx": 102},
              "bounds": "flush", "spacing": 8, "resolve": {"scale": {"color": "independent"}},
              "hconcat": [
                {
                  "width": 149, "height": 212.3,
                  "view": {"stroke": null},
                  "data": {"name": "heatE"},
                  "transform": [{"filter": "datum.train !== 'Average'"}],
                  "encoding": {
                    "x": {"field": "train", "type": "nominal", "scale": {"domain": ["China-2017","Australia-2015","Denmark-2013","China-2020","China-2021","Sweden-2013"], "paddingInner": 0, "paddingOuter": 0}, "axis": {"orient": "top", "title": null, "offset": -30.3, "labelAngle": -45, "labelAlign": "left", "labelBaseline": "middle", "labelFontSize": 6.3, "labelColor": "#4d4d4d", "labelPadding": 4.5, "labelOffset": -6, "ticks": false}},
                    "y": {"field": "test", "type": "nominal", "scale": {"domain": [" ","China-2017","Australia-2015","Denmark-2013","China-2020","China-2021","Sweden-2013"], "paddingInner": 0, "paddingOuter": 0}, "axis": {"title": "Test Set", "titleFontSize": 6.7, "titleX": -51, "titleY": 121, "labelFontSize": 6, "labelColor": "#4d4d4d", "labelPadding": 5, "ticks": false}}
                  },
                  "layer": [
                    {"mark": {"type": "rect"}, "encoding": {"color": {"field": "auc", "type": "quantitative", "scale": {"domain": [0.2, 0.28, 0.4, 1.0], "range": ["#ff2000", "#ffb000", "#7fff00", "#006400"], "interpolate": "rgb"}, "legend": null}}},
                    {"transform": [{"filter": "datum.train === datum.test"}], "mark": {"type": "rect", "filled": false, "color": "#bdbdbd", "strokeWidth": 1.6}},
                    {"mark": {"type": "text", "fontSize": 6.3, "color": "#1a1a1a"}, "encoding": {"text": {"field": "auc", "type": "quantitative", "format": ".2f"}}}
                  ]
                },
                {
                  "width": 19.5, "height": 212.3,
                  "view": {"stroke": null},
                  "data": {"name": "heatE"},
                  "transform": [{"filter": "datum.train === 'Average'"}],
                  "encoding": {
                    "x": {"field": "train", "type": "nominal", "scale": {"domain": ["Average"], "paddingInner": 0, "paddingOuter": 0}, "axis": {"orient": "top", "title": null, "offset": -30.3, "labelAngle": -45, "labelAlign": "left", "labelBaseline": "middle", "labelFontSize": 6.3, "labelColor": "#4d4d4d", "labelPadding": 4.5, "labelOffset": -6, "ticks": false}},
                    "y": {"field": "test", "type": "nominal", "scale": {"domain": [" ","China-2017","Australia-2015","Denmark-2013","China-2020","China-2021","Sweden-2013"], "paddingInner": 0, "paddingOuter": 0}, "axis": null}
                  },
                  "layer": [
                    {"mark": {"type": "rect"}, "encoding": {"color": {"field": "auc", "type": "quantitative", "scale": {"domain": [0.2, 0.28, 0.4, 1.0], "range": ["#ff2000", "#ffb000", "#7fff00", "#006400"], "interpolate": "rgb"}, "legend": null}}},
                    {"mark": {"type": "text", "fontSize": 6.3, "color": "#1a1a1a"}, "encoding": {"text": {"field": "auc", "type": "quantitative", "format": ".2f"}}}
                  ]
                }
              ]
            }]
          },
          {
            "title": {"text": "F", "anchor": "start", "frame": "bounds", "fontSize": 11, "fontWeight": "bold", "dx": 38.7, "offset": 7.7},
            "resolve": {"scale": {"color": "independent"}},
            "vconcat": [{
              "title": {"text": "Bacteria + KOs + vOTU Training Set", "frame": "bounds", "fontWeight": "normal", "fontSize": 9, "offset": 8.8, "dx": 65.5},
              "bounds": "flush", "spacing": 8, "resolve": {"scale": {"color": "independent"}},
              "hconcat": [
                {
                  "width": 140, "height": 212.3,
                  "view": {"stroke": null},
                  "data": {"name": "heatF"},
                  "transform": [{"filter": "datum.train !== 'Average'"}],
                  "encoding": {
                    "x": {"field": "train", "type": "nominal", "scale": {"domain": ["China-2017","Australia-2015","Denmark-2013","China-2020","China-2021","Sweden-2013"], "paddingInner": 0, "paddingOuter": 0}, "axis": {"orient": "top", "title": null, "offset": -30.3, "labelAngle": -45, "labelAlign": "left", "labelBaseline": "middle", "labelFontSize": 6.3, "labelColor": "#4d4d4d", "labelPadding": 4.5, "labelOffset": -6, "ticks": false}},
                    "y": {"field": "test", "type": "nominal", "scale": {"domain": [" ","China-2017","Australia-2015","Denmark-2013","China-2020","China-2021","Sweden-2013"], "paddingInner": 0, "paddingOuter": 0}, "axis": {"title": null, "labelFontSize": 6, "labelColor": "#4d4d4d", "labelPadding": 5, "ticks": false}}
                  },
                  "layer": [
                    {"mark": {"type": "rect"}, "encoding": {"color": {"field": "auc", "type": "quantitative", "scale": {"domain": [0.2, 0.28, 0.4, 1.0], "range": ["#ff2000", "#ffb000", "#7fff00", "#006400"], "interpolate": "rgb"}, "legend": null}}},
                    {"transform": [{"filter": "datum.train === datum.test"}], "mark": {"type": "rect", "filled": false, "color": "#bdbdbd", "strokeWidth": 1.6}},
                    {"mark": {"type": "text", "fontSize": 6.3, "color": "#1a1a1a"}, "encoding": {"text": {"field": "auc", "type": "quantitative", "format": ".2f"}}}
                  ]
                },
                {
                  "width": 23.3, "height": 212.3,
                  "view": {"stroke": null},
                  "data": {"name": "heatF"},
                  "transform": [{"filter": "datum.train === 'Average'"}],
                  "encoding": {
                    "x": {"field": "train", "type": "nominal", "scale": {"domain": ["Average"], "paddingInner": 0, "paddingOuter": 0}, "axis": {"orient": "top", "title": null, "offset": -30.3, "labelAngle": -45, "labelAlign": "left", "labelBaseline": "middle", "labelFontSize": 6.3, "labelColor": "#4d4d4d", "labelPadding": 4.5, "labelOffset": -6, "ticks": false}},
                    "y": {"field": "test", "type": "nominal", "scale": {"domain": [" ","China-2017","Australia-2015","Denmark-2013","China-2020","China-2021","Sweden-2013"], "paddingInner": 0, "paddingOuter": 0}, "axis": null}
                  },
                  "layer": [
                    {"mark": {"type": "rect"}, "encoding": {"color": {"field": "auc", "type": "quantitative", "scale": {"domain": [0.2, 0.28, 0.4, 1.0], "range": ["#ff2000", "#ffb000", "#7fff00", "#006400"], "interpolate": "rgb"},
                      "legend": {"orient": "none", "legendX": 36, "legendY": 90, "title": "AUC", "titleFontSize": 6, "titleFontWeight": "normal", "titleColor": "#222", "titlePadding": 1, "labelFontSize": 4.5, "labelColor": "#444", "labelOffset": 2, "gradientLength": 52, "gradientThickness": 9, "values": [0.2, 0.4, 0.6, 0.8, 1.0], "direction": "vertical", "padding": 0, "labelOverlap": false, "format": ".1f"}}}},
                    {"mark": {"type": "text", "fontSize": 6.3, "color": "#1a1a1a"}, "encoding": {"text": {"field": "auc", "type": "quantitative", "format": ".2f"}}}
                  ]
                }
              ]
            }]
          }
        ]
      }
    ]
  }
]
}
